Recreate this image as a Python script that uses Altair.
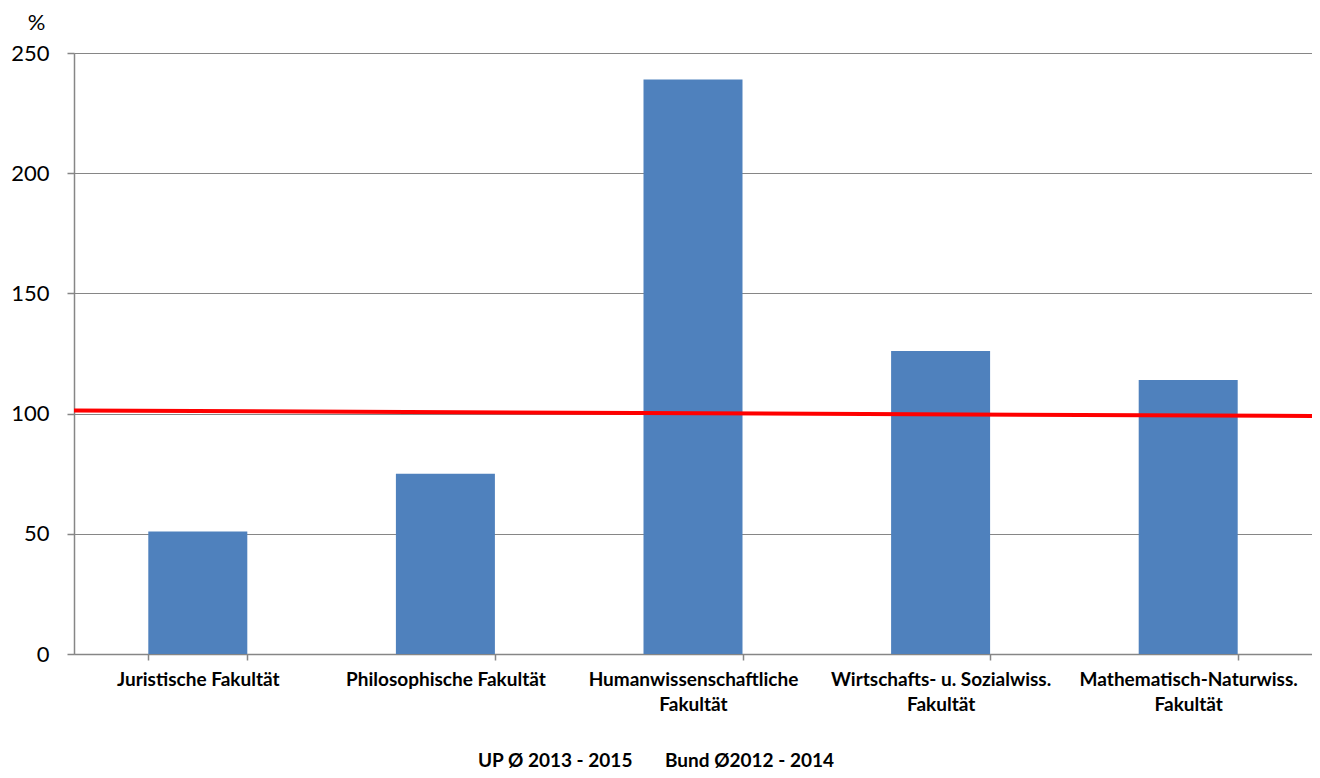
import altair as alt
import pandas as pd

categories = [
    "Juristische Fakultät",
    "Philosophische Fakultät",
    "Humanwissenschaftliche Fakultät",
    "Wirtschafts- u. Sozialwiss. Fakultät",
    "Mathematisch-Naturwiss. Fakultät",
]
up_values = [51, 75, 239, 126, 114]
bund_start = 101.3
bund_end = 99.0
series_names = ["UP Ø 2013 - 2015", "Bund Ø2012 - 2014"]

bars_df = pd.DataFrame({"cat": categories, "val": up_values, "series": series_names[0]})
line_df = pd.DataFrame({"y1": [bund_start], "y2": [bund_end], "series": [series_names[1]]})

FONT = "Lato"
W, H = 1238, 601
GRID = "#868686"

color = alt.Color(
    "series:N",
    scale=alt.Scale(domain=series_names, range=["#4F81BD", "#FF0000"]),
    legend=alt.Legend(
        title=None,
        orient="none",
        direction="horizontal",
        legendX=385,
        legendY=698,
        symbolSize=0,
        symbolOpacity=0,
        symbolStrokeWidth=0,
        labelOffset=0,
        columnPadding=13,
        labelFont=FONT,
        labelFontSize=19,
        labelFontWeight="bold",
        labelColor="#000000",
        labelLimit=400,
    ),
)

label_expr = (
    "indexof(datum.label, 'Juristische') >= 0 || indexof(datum.label, 'Philosophische') >= 0"
    " ? datum.label : split(replace(datum.label, ' Fakultät', '|Fakultät'), '|')"
)

bars = alt.Chart(bars_df).mark_bar(size=99).encode(
    x=alt.X(
        "cat:N",
        sort=categories,
        title=None,
        scale=alt.Scale(paddingInner=0.6, paddingOuter=0.3),
        axis=alt.Axis(
            labelAngle=0,
            labelFont=FONT,
            labelFontSize=19,
            labelFontWeight="bold",
            labelColor="#000000",
            labelLimit=260,
            labelPadding=10,
            labelLineHeight=25,
            labelExpr=label_expr,
            tickBand="extent",
            tickSize=6,
            tickColor=GRID,
            tickWidth=1.5,
            domainColor=GRID,
            domainWidth=1.5,
            grid=False,
        ),
    ),
    y=alt.Y(
        "val:Q",
        scale=alt.Scale(domain=[0, 250], nice=False),
        axis=alt.Axis(
            values=[0, 50, 100, 150, 200, 250],
            title="%",
            titleAngle=0,
            titleX=-38,
            titleY=-31,
            titleAlign="center",
            titleBaseline="middle",
            titleFont=FONT,
            titleFontSize=22,
            titleFontWeight="normal",
            titleColor="#000000",
            labelFont=FONT,
            labelFontSize=22,
            labelColor="#000000",
            labelPadding=18,
            tickSize=7,
            tickColor=GRID,
            tickWidth=1.5,
            domainColor=GRID,
            domainWidth=1.5,
            grid=True,
            gridColor=GRID,
            gridWidth=1,
        ),
    ),
    color=color,
)

redline = alt.Chart(line_df).mark_rule(strokeWidth=4).encode(
    x=alt.value(0),
    x2=alt.value(W + 5),
    y=alt.Y("y1:Q"),
    y2=alt.Y2("y2:Q"),
    color=color,
)

chart = (
    alt.layer(bars, redline)
    .properties(
        width=W,
        height=H,
        padding={"left": 66, "top": 45, "right": 0, "bottom": 116},
        autosize=alt.AutoSizeParams(type="none"),
    )
    .configure_view(stroke=None)
    .configure(background="white")
)

chart.save("out.html", embed_options={"renderer": "svg", "actions": False})
